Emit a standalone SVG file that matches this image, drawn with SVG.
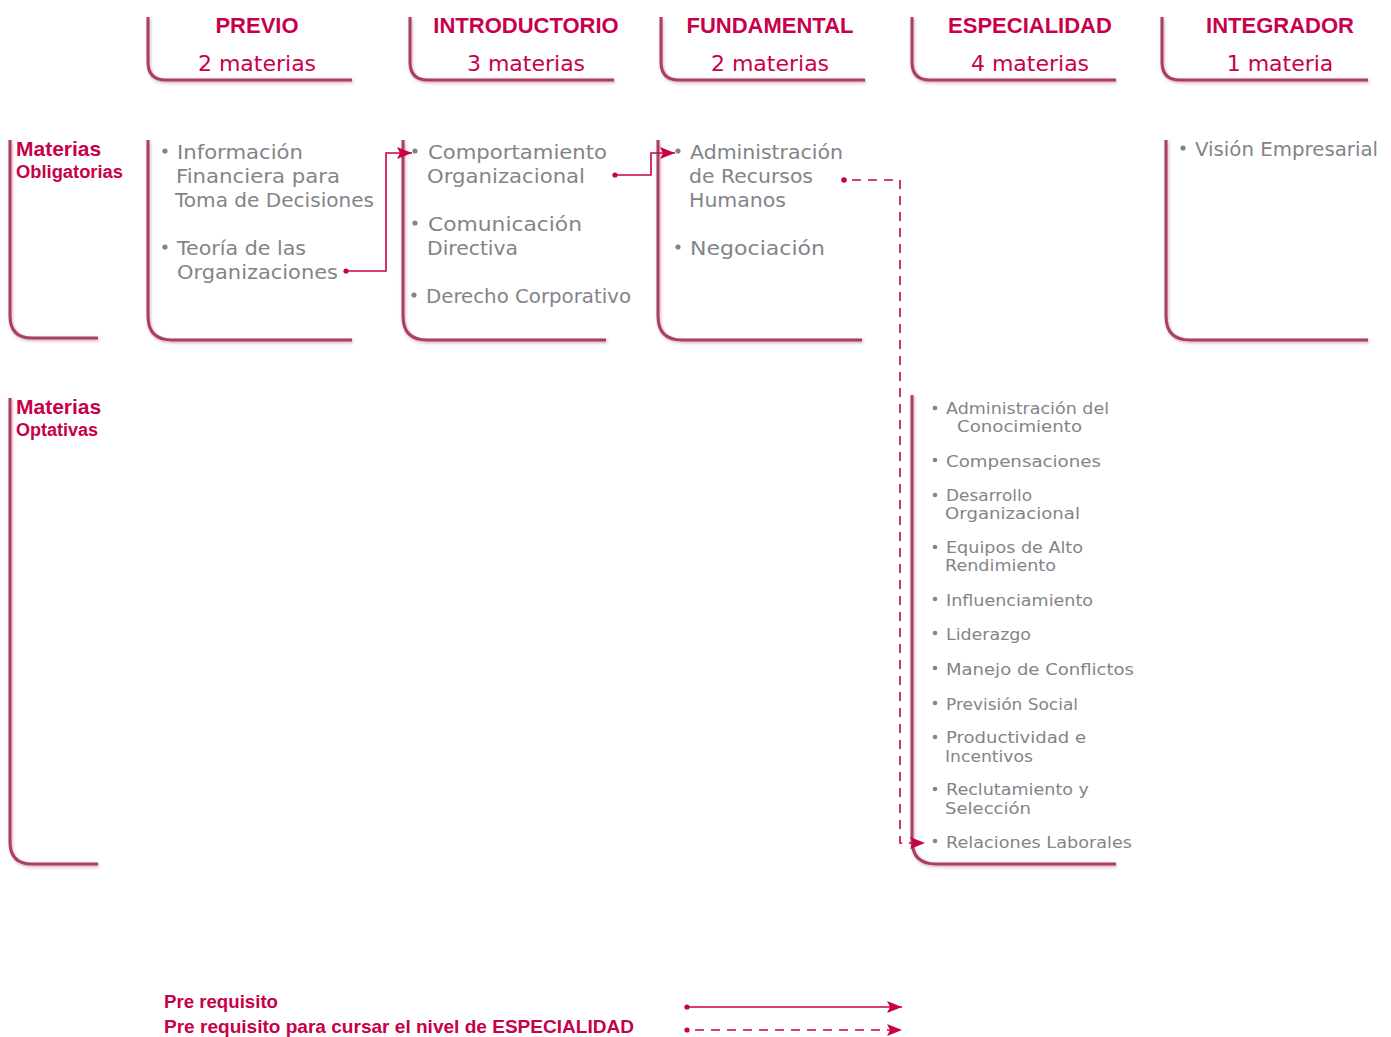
<svg xmlns="http://www.w3.org/2000/svg" width="1391" height="1037" viewBox="0 0 1391 1037">
<style>
.br{fill:none;stroke:#a8405f;stroke-width:3;filter:url(#sh)}
.ttl{font-family:"Liberation Sans",Arial,sans-serif;font-weight:bold;font-size:22px;fill:#c8004c;text-anchor:middle}
.sub{font-family:"DejaVu Sans",sans-serif;font-size:22px;fill:#c8004c;text-anchor:middle}
.lbl{font-family:"Liberation Sans",Arial,sans-serif;font-weight:bold;fill:#c8004c}
.t{font-family:"DejaVu Sans",sans-serif;font-size:20px;fill:#838488}
.o{font-family:"DejaVu Sans",sans-serif;font-size:16.5px;fill:#838488}
.bu{fill:#838488}
.cn{fill:none;stroke:#c8004c;stroke-width:1.6}
.ds{stroke-dasharray:9 7}
.dot{fill:#c8004c}
</style>
<defs>
<filter id="sh" x="-20%" y="-20%" width="140%" height="140%">
<feDropShadow dx="1" dy="1.5" stdDeviation="1.5" flood-color="#a8405f" flood-opacity="0.45"/>
</filter>
<marker id="ah" markerUnits="userSpaceOnUse" markerWidth="16" markerHeight="12" refX="15" refY="6" orient="auto">
<path d="M0,0 L15,6 L0,12 L3,6 Z" fill="#c8004c"/>
</marker>
</defs>
<rect width="1391" height="1037" fill="#ffffff"/>

<g id="hdr-previo">
<path class="br" d="M148,17 V62 Q148,80 166,80 H352"/>
<text class="ttl" x="257" y="33">PREVIO</text>
<text class="sub" x="257" y="71">2 materias</text>
</g>
<g id="hdr-introductorio">
<path class="br" d="M410,17 V62 Q410,80 428,80 H614"/>
<text class="ttl" x="526" y="33">INTRODUCTORIO</text>
<text class="sub" x="526" y="71">3 materias</text>
</g>
<g id="hdr-fundamental">
<path class="br" d="M661,17 V62 Q661,80 679,80 H865"/>
<text class="ttl" x="770" y="33">FUNDAMENTAL</text>
<text class="sub" x="770" y="71">2 materias</text>
</g>
<g id="hdr-especialidad">
<path class="br" d="M912,17 V62 Q912,80 930,80 H1116"/>
<text class="ttl" x="1030" y="33">ESPECIALIDAD</text>
<text class="sub" x="1030" y="71">4 materias</text>
</g>
<g id="hdr-integrador">
<path class="br" d="M1162,17 V62 Q1162,80 1180,80 H1368"/>
<text class="ttl" x="1280" y="33">INTEGRADOR</text>
<text class="sub" x="1280" y="71">1 materia</text>
</g>

<g id="lbl-obligatorias">
<path class="br" d="M10,140 V316 Q10,338 32,338 H98"/>
<text class="lbl" x="16" y="156" font-size="21">Materias</text>
<text class="lbl" x="16" y="178" font-size="18" textLength="107" lengthAdjust="spacingAndGlyphs">Obligatorias</text>
</g>
<g id="lbl-optativas">
<path class="br" d="M10,398 V842 Q10,864 32,864 H98"/>
<text class="lbl" x="16" y="414" font-size="21">Materias</text>
<text class="lbl" x="16" y="436" font-size="18">Optativas</text>
</g>

<g id="obl-previo">
<path class="br" d="M148,140 V316 Q148,340 172,340 H352"/>
<circle class="bu" cx="165" cy="151" r="2.6"/>
<text class="t" x="177" y="159" textLength="126" lengthAdjust="spacingAndGlyphs">Información</text>
<text class="t" x="176" y="183" textLength="164" lengthAdjust="spacingAndGlyphs">Financiera para</text>
<text class="t" x="175" y="207" textLength="199" lengthAdjust="spacingAndGlyphs">Toma de Decisiones</text>
<circle class="bu" cx="165" cy="247" r="2.6"/>
<text class="t" x="177" y="255" textLength="129" lengthAdjust="spacingAndGlyphs">Teoría de las</text>
<text class="t" x="177" y="279" textLength="161" lengthAdjust="spacingAndGlyphs">Organizaciones</text>
</g>
<g id="obl-introductorio">
<path class="br" d="M403,140 V316 Q403,340 427,340 H606"/>
<circle class="bu" cx="415" cy="151" r="2.6"/>
<text class="t" x="428" y="159" textLength="179" lengthAdjust="spacingAndGlyphs">Comportamiento</text>
<text class="t" x="427" y="183" textLength="158" lengthAdjust="spacingAndGlyphs">Organizacional</text>
<circle class="bu" cx="415" cy="223" r="2.6"/>
<text class="t" x="428" y="231" textLength="154" lengthAdjust="spacingAndGlyphs">Comunicación</text>
<text class="t" x="427" y="255" textLength="91" lengthAdjust="spacingAndGlyphs">Directiva</text>
<circle class="bu" cx="414" cy="295" r="2.6"/>
<text class="t" x="426" y="303" textLength="205" lengthAdjust="spacingAndGlyphs">Derecho Corporativo</text>
</g>
<g id="obl-fundamental">
<path class="br" d="M658,140 V316 Q658,340 682,340 H862"/>
<circle class="bu" cx="678" cy="151" r="2.6"/>
<text class="t" x="690" y="159" textLength="153" lengthAdjust="spacingAndGlyphs">Administración</text>
<text class="t" x="689" y="183" textLength="124" lengthAdjust="spacingAndGlyphs">de Recursos</text>
<text class="t" x="689" y="207" textLength="97" lengthAdjust="spacingAndGlyphs">Humanos</text>
<circle class="bu" cx="678" cy="247" r="2.6"/>
<text class="t" x="690" y="255" textLength="135" lengthAdjust="spacingAndGlyphs">Negociación</text>
</g>
<g id="obl-integrador">
<path class="br" d="M1166,140 V316 Q1166,340 1190,340 H1368"/>
<circle class="bu" cx="1183" cy="148" r="2.6"/>
<text class="t" x="1195" y="156" textLength="183" lengthAdjust="spacingAndGlyphs">Visión Empresarial</text>
</g>

<g id="opt-especialidad">
<path class="br" d="M912,395 V840 Q912,864 936,864 H1116"/>
<circle class="bu" cx="935" cy="408" r="2.3"/>
<text class="o" x="946" y="414" textLength="163" lengthAdjust="spacingAndGlyphs">Administración del</text>
<text class="o" x="957" y="432" textLength="125" lengthAdjust="spacingAndGlyphs">Conocimiento</text>
<circle class="bu" cx="935" cy="460" r="2.3"/>
<text class="o" x="946" y="467" textLength="155" lengthAdjust="spacingAndGlyphs">Compensaciones</text>
<circle class="bu" cx="935" cy="495" r="2.3"/>
<text class="o" x="946" y="501" textLength="86" lengthAdjust="spacingAndGlyphs">Desarrollo</text>
<text class="o" x="945" y="519" textLength="135" lengthAdjust="spacingAndGlyphs">Organizacional</text>
<circle class="bu" cx="935" cy="547" r="2.3"/>
<text class="o" x="946" y="553" textLength="137" lengthAdjust="spacingAndGlyphs">Equipos de Alto</text>
<text class="o" x="945" y="571" textLength="111" lengthAdjust="spacingAndGlyphs">Rendimiento</text>
<circle class="bu" cx="935" cy="599" r="2.3"/>
<text class="o" x="946" y="606" textLength="147" lengthAdjust="spacingAndGlyphs">Influenciamiento</text>
<circle class="bu" cx="935" cy="633" r="2.3"/>
<text class="o" x="946" y="640" textLength="85" lengthAdjust="spacingAndGlyphs">Liderazgo</text>
<circle class="bu" cx="935" cy="668" r="2.3"/>
<text class="o" x="946" y="675" textLength="188" lengthAdjust="spacingAndGlyphs">Manejo de Conflictos</text>
<circle class="bu" cx="935" cy="703" r="2.3"/>
<text class="o" x="946" y="710" textLength="132" lengthAdjust="spacingAndGlyphs">Previsión Social</text>
<circle class="bu" cx="935" cy="737" r="2.3"/>
<text class="o" x="946" y="743" textLength="140" lengthAdjust="spacingAndGlyphs">Productividad e</text>
<text class="o" x="945" y="762" textLength="88" lengthAdjust="spacingAndGlyphs">Incentivos</text>
<circle class="bu" cx="935" cy="789" r="2.3"/>
<text class="o" x="946" y="795" textLength="143" lengthAdjust="spacingAndGlyphs">Reclutamiento y</text>
<text class="o" x="945" y="814" textLength="86" lengthAdjust="spacingAndGlyphs">Selección</text>
<circle class="bu" cx="935" cy="841" r="2.3"/>
<text class="o" x="946" y="848" textLength="186" lengthAdjust="spacingAndGlyphs">Relaciones Laborales</text>
</g>

<g id="connectors">
<circle class="dot" cx="346" cy="271" r="2.6"/>
<path class="cn" d="M346,271 H386 V153 H412" marker-end="url(#ah)"/>
<circle class="dot" cx="615" cy="175" r="2.6"/>
<path class="cn" d="M615,175 H651 V153 H675" marker-end="url(#ah)"/>
<circle class="dot" cx="844" cy="180" r="2.8"/>
<path class="cn ds" d="M852,180 H900 V843 H925" marker-end="url(#ah)"/>
</g>

<g id="legend">
<text class="lbl" x="164" y="1008" font-size="19" textLength="114" lengthAdjust="spacingAndGlyphs">Pre requisito</text>
<text class="lbl" x="164" y="1033" font-size="19" textLength="470" lengthAdjust="spacingAndGlyphs">Pre requisito para cursar el nivel de ESPECIALIDAD</text>
<circle class="dot" cx="687" cy="1007" r="2.6"/>
<path class="cn" d="M687,1007 H902" marker-end="url(#ah)"/>
<circle class="dot" cx="687" cy="1030" r="2.6"/>
<path class="cn ds" d="M695,1030 H902" marker-end="url(#ah)"/>
</g>
</svg>
